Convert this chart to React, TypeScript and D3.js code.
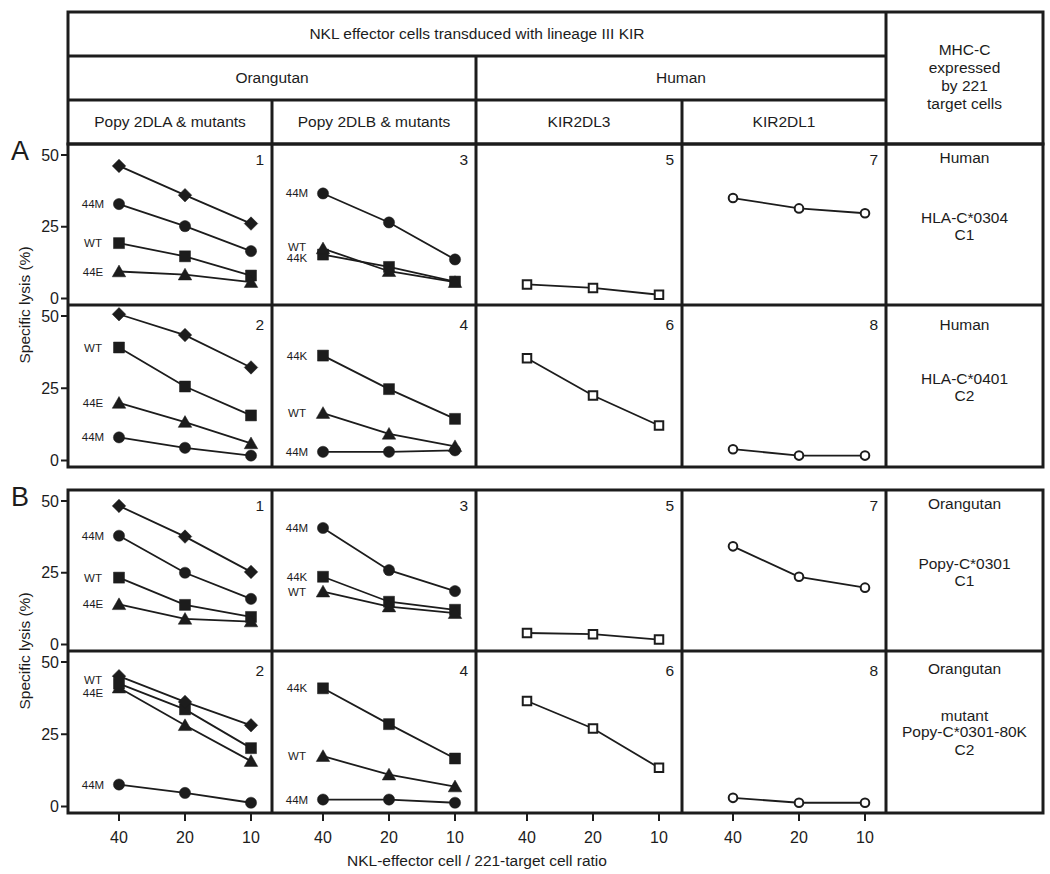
import React from "react";
import * as d3 from "d3";

// ---------- data ----------
const ratios = [40, 20, 10];
const yTickValues = [0, 25, 50];
const topHeader = "NKL effector cells transduced with lineage III KIR";
const groupHeaders = ["Orangutan", "Human"];
const colHeaders = ["Popy 2DLA & mutants", "Popy 2DLB & mutants", "KIR2DL3", "KIR2DL1"];
const targetHeader = ["MHC-C", "expressed", "by 221", "target cells"];
const sectionLetters = ["A", "B"];
const panelNumbers = [[1, 3, 5, 7], [2, 4, 6, 8]];
const targetA1 = ["Human", "HLA-C*0304", "C1"];
const targetA2 = ["Human", "HLA-C*0401", "C2"];
const targetB1 = ["Orangutan", "Popy-C*0301", "C1"];
const targetB2 = ["Orangutan", "mutant", "Popy-C*0301-80K", "C2"];
const yTitle = "Specific lysis (%)";
const xTitle = "NKL-effector cell / 221-target cell ratio";

type Series = { shape: string; label: string; labelAt: number; values: number[] };

// Section A, upper row
const a1Col1: Series[] = [
  { shape: "diamond", label: "", labelAt: 0, values: [46.2, 36.0, 26.1] },
  { shape: "circle", label: "44M", labelAt: 32.9, values: [32.9, 25.2, 16.5] },
  { shape: "square", label: "WT", labelAt: 19.3, values: [19.3, 14.7, 8.0] },
  { shape: "triangle", label: "44E", labelAt: 9.4, values: [9.4, 8.3, 5.7] },
];
const a1Col2: Series[] = [
  { shape: "circle", label: "44M", labelAt: 36.6, values: [36.6, 26.5, 13.6] },
  { shape: "square", label: "44K", labelAt: 14.2, values: [15.3, 11.0, 5.9] },
  { shape: "triangle", label: "WT", labelAt: 17.9, values: [17.4, 9.5, 5.7] },
];
const a1Col3: Series[] = [{ shape: "openSquare", label: "", labelAt: 0, values: [4.9, 3.7, 1.3] }];
const a1Col4: Series[] = [{ shape: "openCircle", label: "", labelAt: 0, values: [35.0, 31.4, 29.7] }];

// Section A, lower row
const a2Col1: Series[] = [
  { shape: "diamond", label: "", labelAt: 0, values: [50.6, 43.4, 32.2] },
  { shape: "square", label: "WT", labelAt: 39.1, values: [39.1, 25.6, 15.6] },
  { shape: "triangle", label: "44E", labelAt: 19.9, values: [19.9, 13.3, 5.9] },
  { shape: "circle", label: "44M", labelAt: 8.0, values: [8.0, 4.4, 1.7] },
];
const a2Col2: Series[] = [
  { shape: "square", label: "44K", labelAt: 36.3, values: [36.3, 24.7, 14.4] },
  { shape: "circle", label: "44M", labelAt: 3.0, values: [3.0, 3.0, 3.5] },
  { shape: "triangle", label: "WT", labelAt: 16.5, values: [16.4, 9.2, 4.9] },
];
const a2Col3: Series[] = [{ shape: "openSquare", label: "", labelAt: 0, values: [35.4, 22.5, 12.1] }];
const a2Col4: Series[] = [{ shape: "openCircle", label: "", labelAt: 0, values: [3.9, 1.7, 1.7] }];

// Section B, upper row
const b1Col1: Series[] = [
  { shape: "diamond", label: "", labelAt: 0, values: [48.3, 37.6, 25.3] },
  { shape: "circle", label: "44M", labelAt: 37.9, values: [37.9, 25.0, 15.9] },
  { shape: "square", label: "WT", labelAt: 23.3, values: [23.3, 13.8, 9.6] },
  { shape: "triangle", label: "44E", labelAt: 14.0, values: [14.0, 8.9, 8.0] },
];
const b1Col2: Series[] = [
  { shape: "circle", label: "44M", labelAt: 40.6, values: [40.6, 25.9, 18.6] },
  { shape: "square", label: "44K", labelAt: 23.6, values: [23.6, 14.9, 12.1] },
  { shape: "triangle", label: "WT", labelAt: 18.4, values: [18.4, 13.2, 10.9] },
];
const b1Col3: Series[] = [{ shape: "openSquare", label: "", labelAt: 0, values: [4.0, 3.6, 1.7] }];
const b1Col4: Series[] = [{ shape: "openCircle", label: "", labelAt: 0, values: [34.2, 23.6, 19.8] }];

// Section B, lower row
const b2Col1: Series[] = [
  { shape: "triangle", label: "44E", labelAt: 39.3, values: [41.1, 28.1, 15.7] },
  { shape: "square", label: "WT", labelAt: 43.6, values: [42.5, 33.6, 20.2] },
  { shape: "diamond", label: "", labelAt: 0, values: [45.1, 36.2, 28.1] },
  { shape: "circle", label: "44M", labelAt: 7.6, values: [7.6, 4.7, 1.3] },
];
const b2Col2: Series[] = [
  { shape: "square", label: "44K", labelAt: 40.9, values: [40.9, 28.5, 16.6] },
  { shape: "triangle", label: "WT", labelAt: 17.4, values: [17.4, 11.0, 6.9] },
  { shape: "circle", label: "44M", labelAt: 2.4, values: [2.4, 2.4, 1.3] },
];
const b2Col3: Series[] = [{ shape: "openSquare", label: "", labelAt: 0, values: [36.5, 27.0, 13.4] }];
const b2Col4: Series[] = [{ shape: "openCircle", label: "", labelAt: 0, values: [3.0, 1.3, 1.3] }];

const sectionPanels = [
  [[a1Col1, a1Col2, a1Col3, a1Col4], [a2Col1, a2Col2, a2Col3, a2Col4]],
  [[b1Col1, b1Col2, b1Col3, b1Col4], [b2Col1, b2Col2, b2Col3, b2Col4]],
];
const sectionTargets = [[targetA1, targetA2], [targetB1, targetB2]];

// ---------- layout ----------
const W = 1050;
const H = 874;
const colX = [68, 272, 476, 682, 886, 1043];
const headerY = [12, 56, 100, 144];
const sectionRows = [
  [[144, 305], [305, 467]],
  [[490, 651], [651, 813]],
];
const FONT = "'Liberation Sans', Arial, Helvetica, sans-serif";
const INK = "#1c1c1c";
const BORDER = 3;
const HFS = 15.5;

// custom symbols
const diamondType = {
  draw(ctx: any, size: number) {
    const r = Math.sqrt(size) / 2;
    ctx.moveTo(0, -r);
    ctx.lineTo(r, 0);
    ctx.lineTo(0, r);
    ctx.lineTo(-r, 0);
    ctx.closePath();
  },
};
const triangleType = {
  draw(ctx: any, size: number) {
    const s = Math.sqrt(size);
    const h = s * 0.87;
    ctx.moveTo(0, -h * 0.55);
    ctx.lineTo(s / 2, h * 0.45);
    ctx.lineTo(-s / 2, h * 0.45);
    ctx.closePath();
  },
};
const symbolPath: Record<string, string> = {
  diamond: d3.symbol().type(diamondType as any).size(13.5 * 13.5)() as string,
  circle: d3.symbol().type(d3.symbolCircle).size(Math.PI * 5.6 * 5.6)() as string,
  square: d3.symbol().type(d3.symbolSquare).size(11 * 11)() as string,
  triangle: d3.symbol().type(triangleType as any).size(13.5 * 13.5)() as string,
  openSquare: d3.symbol().type(d3.symbolSquare).size(8.5 * 8.5)() as string,
  openCircle: d3.symbol().type(d3.symbolCircle).size(Math.PI * 4.3 * 4.3)() as string,
};

function Panel({ series, left, right, top, bottom, num, rowIdx }: any) {
  const x = d3.scaleLog().domain([40, 10]).range([left + 51, left + 183]);
  const y = d3.scaleLinear().domain([0, 50]).range([bottom - 6.5, top + 11]);
  const line = d3
    .line<number>()
    .x((_, i) => x(ratios[i]))
    .y((v) => y(v));
  return (
    <g>
      {series.map((s: Series, si: number) => (
        <g key={si}>
          <path d={line(s.values) as string} fill="none" stroke={INK} strokeWidth={1.8} />
          {s.values.map((v, i) => {
            const open = s.shape.startsWith("open");
            return (
              <path
                key={i}
                d={symbolPath[s.shape]}
                transform={`translate(${x(ratios[i])},${y(v)})`}
                fill={open ? "#fff" : INK}
                stroke={INK}
                strokeWidth={open ? 2 : 0.5}
              />
            );
          })}
          {s.label && (
            <text
              x={left + 25}
              y={y(s.labelAt) + 4}
              textAnchor="middle"
              fontSize={11.5}
              fontFamily={FONT}
              fill={INK}
            >
              {s.label}
            </text>
          )}
        </g>
      ))}
      <text
        x={right - 8}
        y={top + (rowIdx === 0 ? 21 : 25)}
        textAnchor="end"
        fontSize={15.5}
        fontFamily={FONT}
        fill={INK}
      >
        {num}
      </text>
    </g>
  );
}

export default function App() {
  const lines: any[] = [];
  const texts: any[] = [];

  const hl = colX[0];
  const hr = colX[5];
  const cx = (a: number, b: number) => (a + b) / 2;

  texts.push(
    <text key="th" x={cx(colX[0], colX[4])} y={39} textAnchor="middle" fontSize={HFS} fontFamily={FONT} fill={INK}>
      {topHeader}
    </text>
  );
  texts.push(
    <text key="g0" x={cx(colX[0], colX[2])} y={83} textAnchor="middle" fontSize={HFS} fontFamily={FONT} fill={INK}>
      {groupHeaders[0]}
    </text>
  );
  texts.push(
    <text key="g1" x={cx(colX[2], colX[4])} y={83} textAnchor="middle" fontSize={HFS} fontFamily={FONT} fill={INK}>
      {groupHeaders[1]}
    </text>
  );
  colHeaders.forEach((h, i) =>
    texts.push(
      <text key={"ch" + i} x={cx(colX[i], colX[i + 1])} y={127} textAnchor="middle" fontSize={HFS} fontFamily={FONT} fill={INK}>
        {h}
      </text>
    )
  );
  targetHeader.forEach((t, i) =>
    texts.push(
      <text key={"tg" + i} x={cx(colX[4], colX[5])} y={55 + i * 18} textAnchor="middle" fontSize={HFS} fontFamily={FONT} fill={INK}>
        {t}
      </text>
    )
  );

  lines.push(<rect key="hb" x={hl} y={headerY[0]} width={hr - hl} height={headerY[3] - headerY[0]} fill="none" stroke={INK} strokeWidth={BORDER} />);
  lines.push(<line key="h1" x1={hl} x2={colX[4]} y1={headerY[1]} y2={headerY[1]} stroke={INK} strokeWidth={BORDER} />);
  lines.push(<line key="h2" x1={hl} x2={colX[4]} y1={headerY[2]} y2={headerY[2]} stroke={INK} strokeWidth={BORDER} />);
  lines.push(<line key="hv4" x1={colX[4]} x2={colX[4]} y1={headerY[0]} y2={headerY[3]} stroke={INK} strokeWidth={BORDER} />);
  lines.push(<line key="hv2" x1={colX[2]} x2={colX[2]} y1={headerY[1]} y2={headerY[3]} stroke={INK} strokeWidth={BORDER} />);
  lines.push(<line key="hv1" x1={colX[1]} x2={colX[1]} y1={headerY[2]} y2={headerY[3]} stroke={INK} strokeWidth={BORDER} />);
  lines.push(<line key="hv3" x1={colX[3]} x2={colX[3]} y1={headerY[2]} y2={headerY[3]} stroke={INK} strokeWidth={BORDER} />);

  const panels: any[] = [];
  sectionRows.forEach((rows, si) => {
    const sTop = rows[0][0];
    const sBot = rows[1][1];
    texts.push(
      <text key={"sl" + si} x={11} y={si === 0 ? 160 : 506} fontSize={27} fontFamily={FONT} fill={INK}>
        {sectionLetters[si]}
      </text>
    );
    const midY = rows[0][1];
    texts.push(
      <text
        key={"yt" + si}
        transform={`translate(30,${midY}) rotate(-90)`}
        textAnchor="middle"
        fontSize={15.5}
        fontFamily={FONT}
        fill={INK}
      >
        {yTitle}
      </text>
    );
    lines.push(<rect key={"sb" + si} x={hl} y={sTop} width={hr - hl} height={sBot - sTop} fill="none" stroke={INK} strokeWidth={BORDER} />);
    lines.push(<line key={"sm" + si} x1={hl} x2={hr} y1={midY} y2={midY} stroke={INK} strokeWidth={BORDER} />);
    [1, 2, 3, 4].forEach((c) =>
      lines.push(<line key={"sv" + si + c} x1={colX[c]} x2={colX[c]} y1={sTop} y2={sBot} stroke={INK} strokeWidth={BORDER} />)
    );

    rows.forEach(([top, bottom], ri) => {
      const y = d3.scaleLinear().domain([0, 50]).range([bottom - 6.5, top + 11]);
      yTickValues.forEach((v) => {
        lines.push(<line key={`yt${si}${ri}${v}`} x1={61} x2={hl} y1={y(v)} y2={y(v)} stroke={INK} strokeWidth={2} />);
        texts.push(
          <text key={`ytl${si}${ri}${v}`} x={59} y={y(v) + 5.5} textAnchor="end" fontSize={16} fontFamily={FONT} fill={INK}>
            {v}
          </text>
        );
      });
      sectionPanels[si][ri].forEach((series, ci) => {
        panels.push(
          <Panel
            key={`p${si}${ri}${ci}`}
            series={series}
            left={colX[ci]}
            right={colX[ci + 1]}
            top={top}
            bottom={bottom}
            num={panelNumbers[ri][ci]}
            rowIdx={ri}
          />
        );
      });
      const tl = sectionTargets[si][ri];
      let offs: number[];
      if (tl.length === 4) offs = [23, 70, 86, 104];
      else if (ri === 0) offs = [19, 79, 96];
      else offs = [25, 79, 96];
      tl.forEach((t, k) =>
        texts.push(
          <text key={`tt${si}${ri}${k}`} x={cx(colX[4], colX[5])} y={top + offs[k]} textAnchor="middle" fontSize={HFS} fontFamily={FONT} fill={INK}>
            {t}
          </text>
        )
      );
    });
  });

  const xBottom = sectionRows[1][1][1];
  [0, 1, 2, 3].forEach((ci) => {
    const x = d3.scaleLog().domain([40, 10]).range([colX[ci] + 51, colX[ci] + 183]);
    ratios.forEach((r) => {
      lines.push(<line key={`xt${ci}${r}`} x1={x(r)} x2={x(r)} y1={xBottom} y2={xBottom + 8} stroke={INK} strokeWidth={2} />);
      texts.push(
        <text key={`xtl${ci}${r}`} x={x(r)} y={843} textAnchor="middle" fontSize={16} fontFamily={FONT} fill={INK}>
          {r}
        </text>
      );
    });
  });
  texts.push(
    <text key="xtitle" x={477} y={866} textAnchor="middle" fontSize={15.5} fontFamily={FONT} fill={INK}>
      {xTitle}
    </text>
  );

  return (
    <svg
      width={W}
      height={H}
      viewBox={`0 0 ${W} ${H}`}
      style={{ position: "absolute", left: 0, top: 0, background: "#fff" }}
    >
      <rect x={0} y={0} width={W} height={H} fill="#fff" />
      {panels}
      {lines}
      {texts}
    </svg>
  );
}
